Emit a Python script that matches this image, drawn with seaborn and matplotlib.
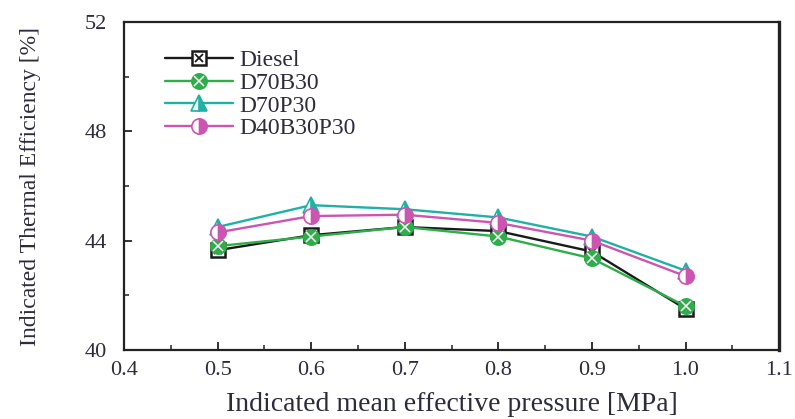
import matplotlib
matplotlib.use("Agg")
import matplotlib.pyplot as plt
from matplotlib.lines import Line2D
from matplotlib.legend_handler import HandlerTuple
from matplotlib.ticker import MultipleLocator
import numpy as np
import pandas as pd
import seaborn as sns

# Indicated mean effective pressure [MPa]
imep = [0.5, 0.6, 0.7, 0.8, 0.9, 1.0]

# Indicated thermal efficiency [%] per fuel
diesel = [43.65, 44.2, 44.5, 44.35, 43.6, 41.5]
d70b30 = [43.8, 44.15, 44.5, 44.15, 43.35, 41.6]
d70p30 = [44.5, 45.3, 45.15, 44.85, 44.15, 42.9]
d40b30p30 = [44.3, 44.9, 44.95, 44.65, 44.0, 42.7]

fuels = ["Diesel", "D70B30", "D70P30", "D40B30P30"]
series = {"Diesel": diesel, "D70B30": d70b30, "D70P30": d70p30, "D40B30P30": d40b30p30}
xtick_labels = ["0.4", "0.5", "0.6", "0.7", "0.8", "0.9", "1.0", "1.1"]

df = pd.DataFrame(
    [(f, x, y) for f in fuels for x, y in zip(imep, series[f])],
    columns=["fuel", "imep", "ite"],
)

sns.set_theme(style="white")
plt.rcParams["font.family"] = ["Liberation Serif", "DejaVu Serif"]

colors = {
    "Diesel": "#1a1a1a",
    "D70B30": "#2eae4a",
    "D70P30": "#1fb0a6",
    "D40B30P30": "#cc55b2",
}

fig = plt.figure(figsize=(7.95, 4.19), dpi=100)
ax = fig.add_axes([0.156, 0.165, 0.824, 0.782])

ms = 11
styles = {
    "Diesel": [dict(marker="s", markersize=ms * 0.95, markerfacecolor="white",
                    markeredgecolor=colors["Diesel"], markeredgewidth=1.8),
               dict(marker="x", markersize=ms * 0.55, markeredgecolor=colors["Diesel"],
                    markeredgewidth=1.3)],
    "D70B30": [dict(marker="o", markersize=ms, markerfacecolor=colors["D70B30"],
                    markeredgecolor=colors["D70B30"], markeredgewidth=1.2),
               dict(marker="x", markersize=ms * 0.6, markeredgecolor="white",
                    markeredgewidth=1.1)],
    "D70P30": [dict(marker="^", markersize=ms, markerfacecolor=colors["D70P30"],
                    markerfacecoloralt="white", fillstyle="right",
                    markeredgecolor=colors["D70P30"], markeredgewidth=1.2)],
    "D40B30P30": [dict(marker="o", markersize=ms, markerfacecolor=colors["D40B30P30"],
                       markerfacecoloralt="white", fillstyle="right",
                       markeredgecolor=colors["D40B30P30"], markeredgewidth=1.2)],
}

handles = []
for f in fuels:
    sub = df[df["fuel"] == f]
    parts = []
    for i, st in enumerate(styles[f]):
        lw = 1.7 if i == 0 else 0
        sns.lineplot(data=sub, x="imep", y="ite", ax=ax, color=colors[f],
                     linewidth=lw, legend=False, **st)
        parts.append(Line2D([], [], color=colors[f], linewidth=lw, **st))
    handles.append(tuple(parts))

ax.set_xlim(0.4, 1.1)
ax.set_ylim(40, 52)
ax.xaxis.set_minor_locator(MultipleLocator(0.05))
ax.yaxis.set_major_locator(MultipleLocator(4))
ax.yaxis.set_minor_locator(MultipleLocator(2))
ax.set_xticks([float(t) for t in xtick_labels])
ax.set_xticklabels(xtick_labels)

tick_color = "#2c2c3c"
ax.tick_params(axis="both", which="major", direction="in", length=6, width=1.3,
               labelsize=16, colors="#222222", labelcolor=tick_color,
               bottom=True, left=True, top=False, right=False)
ax.tick_params(axis="y", which="major", pad=12)
ax.tick_params(axis="x", which="major", pad=8)
ax.tick_params(axis="both", which="minor", direction="in", length=3.5, width=1.1,
               bottom=True, left=True, top=False, right=False, colors="#222222")

for side, sp in ax.spines.items():
    sp.set_color("#222222")
    sp.set_linewidth(1.6)
ax.spines["right"].set_linewidth(2.4)

ax.set_xlabel("Indicated mean effective pressure [MPa]", fontsize=20, color=tick_color,
              labelpad=9)
ax.set_ylabel("Indicated Thermal Efficiency [%]", fontsize=17, color=tick_color)
ax.yaxis.set_label_coords(-0.127, 0.5)

leg = ax.legend(handles, fuels, handler_map={tuple: HandlerTuple(ndivide=1, pad=0)},
                loc="upper left", bbox_to_anchor=(0.048, 0.945), frameon=False,
                fontsize=17, handlelength=2.9, handletextpad=0.25, labelspacing=0.05,
                borderaxespad=0)
for t in leg.get_texts():
    t.set_color(tick_color)

fig.savefig("out.png", dpi=100)
